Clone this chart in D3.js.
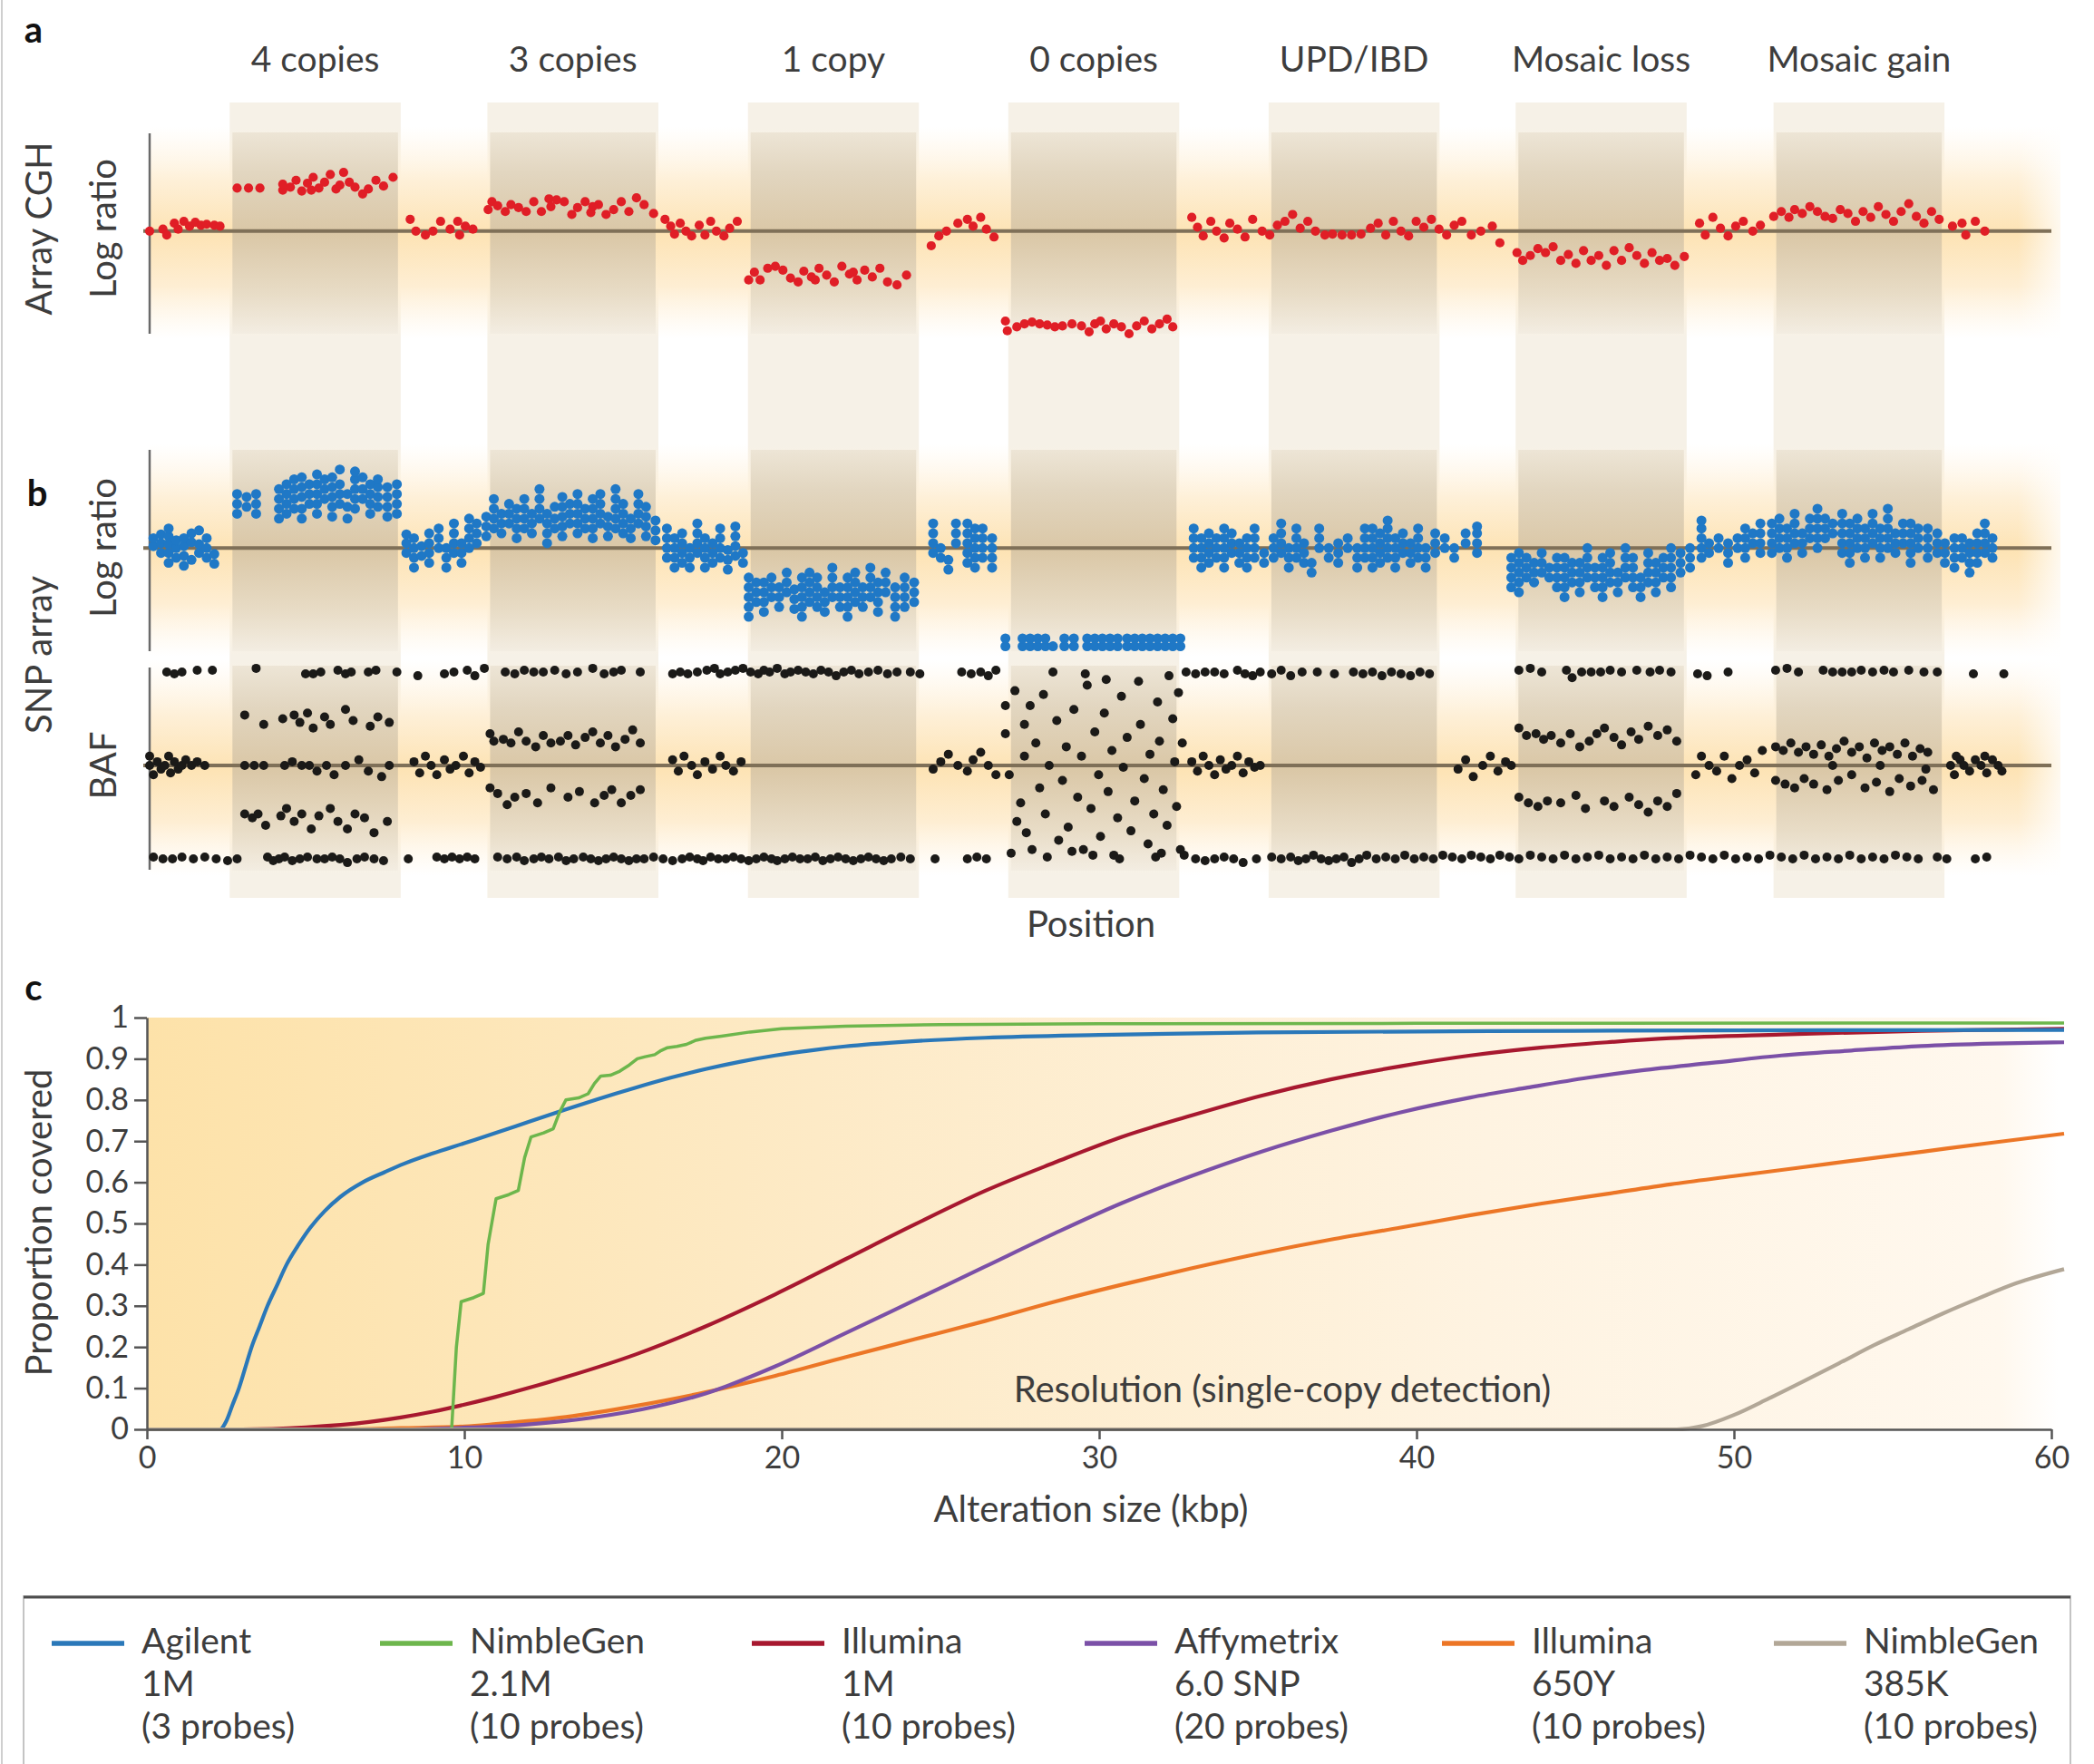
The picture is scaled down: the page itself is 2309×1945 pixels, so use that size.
<!DOCTYPE html>
<html><head><meta charset="utf-8">
<script src="https://cdn.jsdelivr.net/npm/d3@7"></script>
<style>
body{margin:0;background:#fff}
text{font-family:Lato,'Open Sans',sans-serif;fill:#3d3d3d}
</style></head>
<body><svg id="fig" width="2309" height="1945"></svg>
<script>
// ---------------- DATA ----------------
const columnLabels = ["4 copies","3 copies","1 copy","0 copies","UPD/IBD","Mosaic loss","Mosaic gain"];
const columnStarts = [4.21,17.76,31.46,45.15,58.84,71.83,85.39];   // position units
const columnWidth = 8.99;

// panel a: array CGH log ratio (position, log ratio) pairs
const redDots = [
0.0,0.0, 0.7,0.02, 0.9,-0.04, 1.3,0.08, 1.5,0.02, 1.8,0.1, 2.1,0.05, 2.4,0.09, 2.7,0.06, 3.0,0.07, 3.4,0.06, 3.7,0.05,
4.6,0.44, 5.2,0.44, 5.8,0.44, 7.0,0.42, 7.0,0.48, 7.4,0.45, 7.7,0.52, 8.0,0.41, 8.3,0.49, 8.6,0.55, 8.9,0.44, 9.2,0.5, 9.5,0.58, 9.8,0.43, 10.2,0.6, 10.5,0.5, 10.8,0.45, 11.2,0.38, 11.5,0.43, 11.9,0.52, 12.3,0.46, 12.8,0.55, 8.5,0.42, 10.0,0.47,
13.7,0.12, 14.0,0.0, 14.5,-0.04, 14.9,0.0, 15.3,0.1, 15.8,0.02, 16.2,0.1, 16.3,-0.04, 16.6,0.05, 17.0,0.02,
17.8,0.22, 18.0,0.3, 18.3,0.26, 18.7,0.2, 19.0,0.27, 19.4,0.24, 19.8,0.2, 20.2,0.3, 20.6,0.2, 21.0,0.33, 21.4,0.32, 21.8,0.3, 22.2,0.17, 22.5,0.24, 22.9,0.3, 23.2,0.19, 23.6,0.27, 24.0,0.17, 24.4,0.22, 24.8,0.3, 25.2,0.2, 25.6,0.34, 26.0,0.27, 26.5,0.18, 21.1,0.25, 23.3,0.25,
27.1,0.12, 27.4,0.05, 27.6,-0.03, 27.9,0.08, 28.2,0.0, 28.5,-0.05, 28.9,0.06, 29.2,-0.04, 29.5,0.1, 29.8,0.0, 30.2,-0.05, 30.5,0.03, 30.9,0.1,
31.5,-0.5, 31.8,-0.42, 32.1,-0.5, 32.5,-0.38, 32.9,-0.36, 33.3,-0.4, 33.7,-0.48, 34.1,-0.52, 34.4,-0.41, 34.8,-0.47, 35.2,-0.38, 35.6,-0.45, 36.0,-0.52, 36.4,-0.36, 36.8,-0.44, 37.2,-0.5, 37.6,-0.4, 38.0,-0.47, 38.4,-0.38, 38.8,-0.52, 39.3,-0.55, 39.8,-0.45, 35.0,-0.5, 37.0,-0.42,
41.1,-0.15, 41.5,-0.05, 41.9,0.0, 42.5,0.08, 43.0,0.12, 43.3,0.05, 43.7,0.14, 44.0,0.02, 44.4,-0.06,
45.0,-0.92, 45.1,-1.02, 45.6,-0.98, 46.0,-0.95, 46.4,-0.93, 46.8,-0.95, 47.2,-0.96, 47.6,-0.98, 48.0,-0.97, 48.5,-0.95, 49.0,-0.97, 49.4,-1.03, 49.7,-0.95, 50.0,-0.92, 50.3,-1.0, 50.7,-0.95, 51.1,-0.98, 51.5,-1.05, 51.9,-0.97, 52.3,-0.92, 52.7,-1.0, 53.1,-0.95, 53.5,-0.9, 53.8,-0.98,
54.8,0.14, 55.1,0.04, 55.4,-0.05, 55.8,0.1, 56.1,0.0, 56.5,-0.07, 56.8,0.08, 57.2,0.02, 57.6,-0.06, 58.0,0.12, 58.5,0.0, 58.9,-0.04, 59.3,0.06, 59.7,0.1, 60.1,0.17, 60.5,0.03, 60.9,0.1, 61.3,0.0, 61.8,-0.04, 62.2,-0.03, 62.7,-0.04, 63.2,-0.04, 63.7,-0.03, 64.2,0.03, 64.6,0.08, 65.0,-0.04, 65.4,0.1, 65.8,0.0, 66.2,-0.05, 66.6,0.1, 67.0,0.04, 67.4,0.12, 67.8,0.02, 68.2,-0.04, 68.6,0.06, 69.0,0.1, 69.5,-0.04, 70.0,0.0, 70.6,0.05, 71.0,-0.12,
71.9,-0.22, 72.2,-0.3, 72.6,-0.25, 73.0,-0.18, 73.4,-0.22, 73.8,-0.16, 74.2,-0.3, 74.6,-0.24, 75.0,-0.33, 75.4,-0.2, 75.8,-0.3, 76.2,-0.25, 76.6,-0.35, 77.0,-0.2, 77.4,-0.3, 77.8,-0.17, 78.2,-0.25, 78.6,-0.33, 79.0,-0.22, 79.4,-0.3, 79.8,-0.28, 80.2,-0.35, 80.7,-0.26,
81.5,0.08, 81.8,-0.04, 82.2,0.14, 82.6,0.03, 83.0,-0.05, 83.4,0.05, 83.8,0.1, 84.3,0.0, 84.7,0.06,
85.4,0.15, 85.8,0.2, 86.2,0.14, 86.5,0.22, 86.9,0.18, 87.3,0.25, 87.7,0.2, 88.1,0.15, 88.5,0.13, 88.9,0.22, 89.3,0.18, 89.7,0.1, 90.1,0.2, 90.5,0.14, 90.9,0.25, 91.3,0.17, 91.7,0.1, 92.1,0.2, 92.5,0.28, 92.9,0.15, 93.3,0.08, 93.7,0.2, 94.1,0.12,
94.8,0.05, 95.3,0.08, 95.5,-0.04, 96.0,0.1, 96.5,0.0
];

// panel b: SNP array log ratio, stacks [position, logratio...]
const blueStacks = [
[0.2,0.02,0.1],[0.6,-0.05,0.05,0.14],[1.0,-0.15,-0.05,0.04,0.12,0.2],[1.4,-0.1,0.0,0.08],[1.8,-0.18,-0.08,0.02,0.1],[2.2,-0.12,0.06,0.15],[2.6,-0.05,0.04,0.18],[3.0,-0.1,0.0,0.1],[3.4,-0.16,-0.06],
[4.6,0.35,0.45,0.55],[5.1,0.42,0.52],[5.6,0.35,0.45,0.55],[6.8,0.3,0.4,0.5,0.6],[7.2,0.35,0.45,0.55,0.65],[7.6,0.4,0.5,0.6,0.7],[8.0,0.3,0.4,0.52,0.62,0.72],[8.4,0.45,0.55,0.65],[8.8,0.35,0.45,0.55,0.65,0.75],[9.2,0.5,0.6,0.7],[9.6,0.32,0.42,0.52,0.62,0.72],[10.0,0.45,0.55,0.65,0.8],[10.4,0.3,0.42,0.55],[10.8,0.4,0.5,0.6,0.7,0.78],[11.2,0.5,0.6,0.72],[11.6,0.35,0.45,0.55,0.65],[12.0,0.42,0.52,0.62,0.7],[12.5,0.32,0.42,0.52,0.62],[13.0,0.35,0.45,0.55,0.65],
[13.5,-0.05,0.05,0.14],[13.9,-0.2,-0.1,0.0,0.1],[14.3,-0.08,0.02],[14.7,-0.15,-0.05,0.05,0.15],[15.2,0.0,0.1,0.2],[15.6,-0.2,-0.1,0.0],[16.0,-0.05,0.05,0.15,0.25],[16.4,-0.15,-0.05,0.05],[16.8,0.0,0.1,0.2,0.3],[17.2,0.05,0.15,0.25],
[17.7,0.12,0.22,0.32],[18.1,0.2,0.3,0.4,0.5],[18.5,0.15,0.25,0.35],[18.9,0.25,0.35,0.45],[19.3,0.1,0.2,0.3,0.4],[19.7,0.2,0.3,0.4,0.5],[20.1,0.15,0.25,0.35],[20.5,0.3,0.4,0.5,0.6],[20.9,0.05,0.15,0.25,0.35],[21.3,0.2,0.3,0.42],[21.7,0.12,0.22,0.32,0.42,0.52],[22.1,0.25,0.35,0.45],[22.5,0.15,0.25,0.35,0.45,0.55],[22.9,0.2,0.3,0.4],[23.3,0.1,0.2,0.3,0.4,0.5],[23.7,0.25,0.35,0.45,0.55],[24.1,0.12,0.22,0.32],[24.5,0.2,0.3,0.4,0.5,0.6],[24.9,0.15,0.25,0.35,0.45],[25.3,0.1,0.2,0.3],[25.7,0.25,0.35,0.45,0.55],[26.1,0.12,0.22,0.32,0.42],[26.6,0.08,0.18,0.28],
[27.2,-0.1,0.0,0.1,0.2],[27.6,-0.2,-0.1,0.0,0.1],[28.0,-0.15,-0.05,0.05,0.15],[28.4,-0.2,-0.1,0.0],[28.8,-0.05,0.05,0.15,0.25],[29.2,-0.2,-0.1,0.0,0.1],[29.6,-0.15,-0.05,0.05],[30.0,-0.1,0.0,0.1,0.2],[30.4,-0.22,-0.12,-0.02],[30.8,-0.08,0.02,0.12,0.22],[31.2,-0.15,-0.05],
[31.5,-0.7,-0.6,-0.5,-0.4,-0.3],[31.9,-0.55,-0.45,-0.35],[32.3,-0.65,-0.55,-0.45,-0.35],[32.7,-0.5,-0.4,-0.3],[33.1,-0.6,-0.5,-0.4],[33.5,-0.45,-0.35,-0.25],[33.9,-0.62,-0.52,-0.42],[34.3,-0.7,-0.6,-0.5,-0.4,-0.3],[34.7,-0.55,-0.45,-0.35,-0.25],[35.1,-0.6,-0.5,-0.4,-0.3],[35.5,-0.65,-0.55,-0.45],[35.9,-0.5,-0.4,-0.3,-0.2],[36.3,-0.6,-0.5,-0.4],[36.7,-0.7,-0.6,-0.5,-0.4,-0.3],[37.1,-0.55,-0.45,-0.35,-0.25],[37.5,-0.6,-0.5,-0.4],[37.9,-0.5,-0.4,-0.3,-0.2],[38.3,-0.65,-0.55,-0.45,-0.35],[38.7,-0.45,-0.35,-0.25],[39.2,-0.7,-0.6,-0.5,-0.4],[39.7,-0.6,-0.5,-0.4,-0.3],[40.2,-0.55,-0.45,-0.35],
[41.2,-0.05,0.05,0.15,0.25],[41.6,-0.1,0.0],[42.0,-0.22,-0.12],[42.4,0.05,0.15,0.25],[43.0,-0.15,-0.05,0.05,0.15,0.25],[43.4,-0.2,-0.1,0.0,0.1,0.2],[43.8,-0.1,0.0,0.1,0.2],[44.3,-0.2,-0.1,0.0,0.1],
[45.0,-1.0,-0.92],[45.9,-1.0,-0.92],[46.3,-1.0,-0.92],[46.7,-1.0,-0.92],[47.1,-1.0,-0.92],[47.5,-1.0],[48.1,-1.0,-0.92],[48.6,-1.0,-0.92],[49.3,-1.0,-0.92],[49.7,-1.0,-0.92],[50.1,-1.0,-0.92],[50.5,-1.0,-0.92],[50.9,-1.0,-0.92],[51.4,-1.0,-0.92],[51.8,-1.0,-0.92],[52.2,-1.0,-0.92],[52.6,-1.0,-0.92],[53.0,-1.0,-0.92],[53.4,-1.0,-0.92],[53.8,-1.0,-0.92],[54.2,-1.0,-0.92],
[54.9,-0.1,0.0,0.1,0.2],[55.3,-0.2,-0.1,0.0,0.1],[55.7,-0.15,-0.05,0.05,0.15],[56.1,-0.1,0.0,0.1],[56.5,-0.2,-0.1,0.0,0.1,0.2],[56.9,-0.05,0.05,0.15],[57.3,-0.15,-0.05,0.05],[57.7,-0.2,-0.1,0.0,0.1],[58.1,-0.1,0.0,0.1,0.2],[58.6,-0.15,-0.05],[59.1,-0.1,0.0,0.1],[59.5,-0.05,0.05,0.15,0.25],[59.9,-0.2,-0.1,0.0],[60.3,-0.1,0.0,0.1,0.2],[60.7,-0.15,-0.05,0.05],[61.1,-0.25,-0.15],[61.5,0.0,0.1,0.2],[62.0,-0.1,0.0],[62.5,-0.15,-0.05,0.05],[63.0,0.0,0.1],[63.5,-0.2,-0.1,0.0],[63.9,-0.1,0.0,0.1,0.2],[64.3,-0.2,-0.1,0.0,0.1,0.2],[64.7,-0.15,-0.05,0.05,0.15],[65.1,-0.1,0.0,0.1,0.2,0.28],[65.5,-0.2,-0.1,0.0,0.1],[65.9,-0.05,0.05,0.15],[66.3,-0.15,-0.05,0.05],[66.7,-0.1,0.0,0.1,0.2],[67.1,-0.2,-0.1,0.0],[67.6,-0.05,0.05,0.15],[68.1,0.0,0.1],[68.6,-0.1,0.0],[69.2,0.05,0.15],[69.8,-0.05,0.05,0.15,0.22],
[71.6,-0.4,-0.3,-0.2,-0.1],[72.0,-0.45,-0.35,-0.25,-0.15,-0.05],[72.4,-0.3,-0.2,-0.1],[72.8,-0.35,-0.25,-0.15],[73.2,-0.25,-0.15,-0.05],[73.6,-0.3,-0.2],[74.0,-0.4,-0.3,-0.2,-0.1],[74.4,-0.5,-0.4,-0.3,-0.2,-0.1],[74.8,-0.35,-0.25,-0.15],[75.2,-0.45,-0.35,-0.25,-0.15],[75.6,-0.3,-0.2,-0.1,0.0],[76.0,-0.4,-0.3,-0.2],[76.4,-0.5,-0.4,-0.3,-0.2,-0.1],[76.8,-0.35,-0.25,-0.15,-0.05],[77.2,-0.45,-0.35,-0.25],[77.6,-0.3,-0.2,-0.1,0.0],[78.0,-0.4,-0.3,-0.2,-0.1],[78.4,-0.5,-0.4,-0.3],[78.8,-0.35,-0.25,-0.15,-0.05],[79.2,-0.45,-0.35,-0.25,-0.15],[79.6,-0.3,-0.2,-0.1],[80.0,-0.4,-0.3,-0.2,-0.1,0.0],[80.5,-0.25,-0.15,-0.05],[81.0,-0.2,-0.1,0.0],
[81.6,-0.1,0.0,0.1,0.2,0.28],[82.0,-0.05,0.05],[82.5,0.0,0.1],[83.0,-0.15,-0.05,0.05],[83.5,0.0,0.1],[83.9,-0.1,0.0,0.1,0.2],[84.3,0.05,0.15],[84.7,-0.05,0.05,0.15,0.25],
[85.3,-0.05,0.05,0.15,0.25],[85.7,0.0,0.1,0.2,0.3],[86.1,-0.1,0.0,0.1,0.2],[86.5,0.05,0.15,0.25,0.35],[86.9,-0.05,0.05,0.15],[87.3,0.1,0.2,0.3],[87.7,0.0,0.1,0.2,0.3,0.4],[88.1,0.1,0.2,0.3],[88.5,0.15,0.25],[89.0,-0.05,0.05,0.15,0.25,0.35],[89.4,-0.15,-0.05,0.05,0.15,0.25],[89.8,0.0,0.1,0.2,0.3],[90.2,-0.1,0.0,0.1,0.2],[90.6,0.05,0.15,0.25,0.35],[91.0,-0.1,0.0,0.1,0.2],[91.4,0.0,0.1,0.2,0.3,0.4],[91.8,-0.05,0.05,0.15],[92.2,0.05,0.15,0.25],[92.6,-0.15,-0.05,0.05,0.15,0.25],[93.0,0.0,0.1,0.2],[93.5,-0.1,0.0,0.1,0.2],[94.0,-0.05,0.05,0.15],[94.4,-0.15,-0.05,0.05],
[94.9,-0.2,-0.1,0.0,0.1],[95.3,-0.1,0.0,0.1],[95.7,-0.25,-0.15,-0.05,0.05],[96.1,-0.15,-0.05,0.05,0.15],[96.5,-0.05,0.05,0.15,0.25],[96.9,-0.1,0.0,0.1]
];

// panel b: B-allele frequency (position, BAF) pairs
const bafTop = [
0.9,1.0, 1.3,0.99, 1.7,1.0, 2.5,1.01, 3.3,1.01,
5.6,1.02, 8.2,0.99, 8.6,0.99, 9.0,1.0, 9.9,1.01, 10.3,0.99, 10.6,1.0, 11.5,1.0, 11.9,1.01, 13.0,1.0, 14.1,0.98,
15.5,0.99, 16.0,1.0, 16.7,1.01, 17.1,0.98, 17.6,1.02, 18.7,1.0, 19.2,0.99, 19.7,1.01, 20.2,1.0, 20.7,1.0, 21.3,1.01, 21.9,0.99, 22.5,1.0, 23.3,1.02, 23.9,0.99, 24.4,1.0, 24.8,1.01, 25.8,1.0,
27.5,0.99, 27.9,1.0, 28.3,0.99, 28.8,1.0, 29.3,1.01, 29.7,1.02, 30.0,0.99, 30.4,1.0, 30.8,1.01, 31.2,1.02, 31.6,1.0, 32.0,0.99, 32.3,1.01, 32.6,1.0, 33.0,1.02, 33.4,0.99, 33.7,1.0, 34.1,1.01, 34.5,1.0, 34.9,0.99, 35.3,1.01, 35.7,1.0, 36.1,0.98, 36.5,1.0, 36.9,1.01, 37.3,0.99, 37.8,1.0, 38.3,1.01, 38.8,0.99, 39.3,1.0, 40.0,1.0, 40.5,0.99,
42.7,1.0, 43.2,0.99, 43.7,1.0, 44.1,0.98, 44.5,1.01, 47.5,1.0, 49.2,0.99,
54.5,1.0, 55.0,0.99, 55.5,1.0, 56.0,1.0, 56.5,0.99, 57.2,1.01, 57.6,0.99, 58.0,0.98, 58.4,1.0, 59.0,0.99, 59.5,1.01, 60.0,0.98, 60.6,1.0, 61.4,1.0, 62.3,0.99, 63.3,1.0, 63.8,0.99, 64.3,1.0, 64.8,0.98, 65.3,1.0, 65.8,0.99, 66.3,0.98, 66.8,1.0, 67.3,0.99,
72.0,1.01, 72.6,1.02, 73.2,1.0, 74.5,1.01, 74.8,0.97, 75.3,1.0, 75.8,1.0, 76.3,1.0, 76.8,1.01, 77.4,1.0, 78.2,1.01, 78.9,1.0, 79.4,1.01, 80.0,1.0,
81.4,0.99, 81.9,0.98, 83.0,1.0,
85.5,1.01, 86.1,1.02, 86.7,1.0, 88.0,1.01, 88.5,1.0, 89.0,1.0, 89.5,1.0, 90.0,1.01, 90.6,1.0, 91.2,1.01, 91.7,1.0, 92.5,1.01, 93.3,1.0, 94.0,1.0,
95.9,0.99, 97.5,0.99
];
const bafBottom = [
0.2,0.01, 0.7,0.0, 1.2,0.0, 1.7,0.01, 2.3,0.0, 2.9,0.01, 3.5,0.0, 4.1,-0.01, 4.6,0.0, 6.2,0.01, 6.5,-0.01, 6.8,0.0, 7.1,0.01, 7.5,-0.01, 7.9,0.0, 8.3,0.01, 8.8,0.0, 9.2,0.0, 9.6,0.01, 10.0,0.0, 10.4,-0.02, 10.9,0.0, 11.3,0.01, 11.8,0.0, 12.3,-0.01, 13.6,0.0,
15.1,0.01, 15.5,0.0, 15.9,0.01, 16.3,0.0, 16.7,0.01, 17.1,0.0, 18.3,0.01, 18.8,0.0, 19.3,0.01, 19.7,-0.01, 20.2,0.0, 20.6,0.01, 21.0,0.0, 21.5,0.01, 21.9,-0.01, 22.3,0.0, 22.8,0.01, 23.2,0.0, 23.6,-0.01, 24.0,0.0, 24.4,0.01, 24.8,0.0, 25.2,-0.01, 25.6,0.0, 26.0,0.0, 26.5,0.01, 27.0,0.0, 27.5,-0.01, 28.0,0.0, 28.4,0.01, 28.8,0.0, 29.1,-0.01, 29.5,0.01, 29.9,0.0, 30.3,0.0, 30.7,0.01, 31.1,0.0, 31.5,-0.01, 31.9,0.0, 32.3,0.01, 32.7,0.0, 33.0,-0.01, 33.4,0.0, 33.8,0.01, 34.2,0.0, 34.6,0.0, 35.0,0.01, 35.4,-0.01, 35.8,0.0, 36.2,0.01, 36.6,0.0, 37.0,-0.01, 37.4,0.0, 37.8,0.01, 38.2,0.0, 38.6,-0.01, 39.0,0.0, 39.5,0.01, 40.0,0.0, 41.3,0.0,
43.0,0.0, 43.5,0.01, 44.0,0.0,
54.4,0.02, 55.0,0.0, 55.5,-0.01, 56.0,0.0, 56.5,0.01, 57.0,0.0, 57.5,-0.02, 58.2,0.0, 59.0,0.01, 59.5,0.0, 60.0,0.01, 60.4,-0.01, 60.8,0.0, 61.2,0.02, 61.6,0.0, 62.0,-0.01, 62.4,0.0, 62.8,0.01, 63.2,-0.02, 63.6,0.0, 64.0,0.02, 64.5,0.0, 65.0,0.01, 65.5,0.0, 66.0,0.02, 66.5,0.0, 67.0,0.01, 67.5,0.0, 68.0,0.02, 68.5,0.01, 69.0,0.0, 69.5,0.02, 70.0,0.01, 70.5,0.0, 71.0,0.02, 71.5,0.01, 72.0,0.0, 72.6,0.02, 73.2,0.01, 73.8,0.0, 74.4,0.02, 75.0,0.0, 75.6,0.01, 76.2,0.02, 76.8,0.0, 77.4,0.01, 78.0,0.0, 78.6,0.02, 79.2,0.0, 79.8,0.01, 80.4,0.0, 81.0,0.02, 81.6,0.01, 82.2,0.0, 82.8,0.02, 83.4,0.0, 84.0,0.01, 84.6,0.0, 85.2,0.02, 85.8,0.01, 86.4,0.0, 87.0,0.02, 87.6,0.0, 88.2,0.01, 88.8,0.0, 89.4,0.02, 90.0,0.0, 90.6,0.01, 91.2,0.0, 91.8,0.02, 92.4,0.01, 93.0,0.0, 94.0,0.01, 94.5,0.0, 96.0,0.0, 96.6,0.01
];
const bafMiddle = [
0.0,0.55, 0.0,0.5, 0.2,0.45, 0.4,0.52, 0.6,0.48, 0.8,0.5, 1.0,0.55, 1.1,0.46, 1.3,0.52, 1.5,0.48, 1.7,0.5, 1.9,0.53, 2.2,0.5, 2.5,0.52, 2.9,0.5,
5.0,0.77, 6.0,0.72, 7.0,0.75, 7.6,0.77, 7.9,0.73, 8.3,0.78, 8.6,0.7, 9.2,0.76, 9.5,0.72, 10.3,0.8, 10.7,0.74, 11.6,0.71, 12.0,0.76, 12.6,0.73,
5.0,0.5, 5.5,0.5, 6.0,0.5, 7.1,0.5, 7.5,0.52, 8.0,0.5, 8.4,0.5, 8.8,0.47, 9.3,0.5, 9.7,0.45, 10.3,0.5, 11.0,0.53, 11.5,0.47, 12.2,0.44, 12.6,0.5,
5.0,0.24, 5.4,0.22, 5.7,0.24, 6.1,0.18, 6.9,0.23, 7.2,0.27, 7.6,0.2, 8.0,0.24, 8.5,0.16, 8.9,0.23, 9.5,0.27, 9.9,0.2, 10.4,0.16, 10.8,0.24, 11.3,0.22, 11.8,0.14, 12.5,0.2,
13.9,0.52, 14.2,0.46, 14.5,0.55, 14.8,0.5, 15.1,0.45, 15.5,0.53, 15.8,0.48, 16.1,0.5, 16.5,0.55, 16.8,0.46, 17.1,0.52, 17.4,0.49,
17.9,0.67, 18.1,0.63, 18.6,0.64, 19.0,0.62, 19.4,0.68, 19.8,0.63, 20.3,0.6, 20.7,0.66, 21.1,0.62, 21.6,0.63, 22.0,0.66, 22.4,0.61, 22.9,0.65, 23.3,0.68, 23.7,0.62, 24.1,0.66, 24.5,0.6, 25.0,0.64, 25.4,0.69, 25.8,0.62,
17.9,0.38, 18.3,0.35, 18.8,0.29, 19.2,0.33, 19.8,0.35, 20.4,0.3, 21.1,0.38, 22.0,0.33, 22.6,0.36, 23.4,0.3, 23.9,0.34, 24.3,0.37, 24.8,0.3, 25.3,0.34, 25.8,0.37,
27.5,0.53, 27.8,0.47, 28.1,0.55, 28.5,0.5, 28.8,0.45, 29.2,0.52, 29.6,0.48, 30.0,0.55, 30.3,0.5, 30.7,0.47, 31.1,0.52,
41.2,0.48, 41.6,0.52, 42.0,0.56, 42.5,0.5, 43.0,0.47, 43.3,0.53, 43.7,0.57, 44.1,0.5, 44.5,0.45,
45.0,0.82, 45.0,0.67, 45.2,0.45, 45.5,0.9, 45.6,0.2, 45.8,0.3, 46.0,0.72, 46.0,0.55, 46.1,0.14, 46.4,0.05, 46.6,0.62, 46.8,0.38, 47.0,0.88, 47.1,0.24, 47.3,0.5, 47.7,0.74, 47.8,0.1, 48.0,0.42, 48.2,0.6, 48.3,0.17, 48.6,0.8, 48.8,0.33, 49.0,0.55, 49.1,0.05, 49.3,0.93, 49.5,0.27, 49.7,0.68, 49.9,0.45, 50.0,0.12, 50.2,0.78, 50.4,0.36, 50.6,0.58, 50.7,0.02, 50.9,0.22, 51.1,0.87, 51.2,0.49, 51.4,0.65, 51.6,0.15, 51.8,0.31, 52.0,0.95, 52.1,0.72, 52.3,0.43, 52.5,0.08, 52.6,0.56, 52.8,0.24, 53.0,0.84, 53.1,0.63, 53.3,0.37, 53.5,0.18, 53.6,0.98, 53.8,0.75, 53.9,0.52, 54.0,0.28, 54.1,0.89, 54.2,0.05, 54.3,0.62, 46.3,0.82, 48.5,0.04, 49.6,0.02, 51.0,0.0, 52.9,0.01, 47.2,0.01, 50.3,0.96, 45.3,0.03, 53.2,0.03,
54.8,0.52, 55.1,0.47, 55.4,0.55, 55.7,0.5, 56.0,0.45, 56.3,0.53, 56.6,0.48, 56.9,0.5, 57.2,0.55, 57.5,0.46, 57.8,0.52, 58.1,0.49, 58.4,0.5,
68.8,0.48, 69.2,0.53, 69.6,0.44, 70.1,0.5, 70.5,0.55, 70.9,0.47, 71.3,0.52, 71.6,0.5,
72.0,0.7, 72.4,0.66, 72.9,0.67, 73.3,0.64, 73.7,0.66, 74.2,0.62, 74.7,0.67, 75.2,0.6, 75.7,0.63, 76.1,0.67, 76.5,0.7, 77.0,0.65, 77.4,0.61, 77.9,0.68, 78.3,0.64, 78.8,0.71, 79.3,0.66, 79.8,0.69, 80.3,0.63,
72.0,0.33, 72.5,0.3, 73.0,0.28, 73.5,0.31, 74.2,0.3, 75.0,0.34, 75.5,0.27, 76.5,0.31, 77.0,0.28, 77.8,0.33, 78.3,0.29, 78.8,0.25, 79.3,0.31, 79.8,0.28, 80.3,0.35,
81.3,0.45, 81.6,0.55, 82.0,0.5, 82.4,0.47, 82.8,0.55, 83.2,0.43, 83.6,0.5, 84.0,0.53, 84.4,0.46, 84.8,0.58,
85.5,0.6, 85.9,0.58, 86.3,0.62, 86.7,0.57, 87.1,0.6, 87.5,0.56, 87.9,0.61, 88.3,0.55, 88.7,0.59, 89.1,0.63, 89.5,0.57, 89.9,0.6, 90.3,0.54, 90.7,0.62, 91.1,0.58, 91.5,0.6, 91.9,0.56, 92.3,0.62, 92.7,0.55, 93.1,0.59, 93.5,0.57,
85.5,0.42, 86.0,0.4, 86.5,0.38, 87.0,0.43, 87.5,0.4, 88.2,0.37, 88.8,0.42, 89.5,0.45, 90.2,0.38, 90.8,0.41, 91.5,0.36, 92.0,0.43, 92.6,0.39, 93.2,0.42, 93.8,0.37, 88.5,0.5, 91.0,0.5, 93.4,0.48,
94.7,0.5, 94.9,0.45, 95.2,0.53, 95.4,0.5, 95.7,0.47, 96.0,0.53, 96.3,0.5, 96.6,0.46, 96.9,0.53, 97.2,0.5, 97.4,0.47, 95.0,0.55, 96.5,0.55
];

// panel c: proportion covered vs alteration size (kbp)
const agilent1M = [[0,0],[2.3,0],[2.5,0.02],[2.7,0.06],[2.9,0.1],[3.1,0.15],[3.3,0.2],[3.55,0.25],[3.8,0.3],[4.1,0.35],[4.4,0.4],[4.75,0.445],[5.15,0.49],[5.6,0.53],[6.1,0.565],[6.8,0.6],[7.5,0.625],[8.1,0.645],[9,0.67],[10,0.695],[11,0.72],[12,0.746],[13.2,0.777],[14.2,0.802],[15.4,0.83],[16.5,0.854],[17.6,0.875],[18.7,0.893],[19.8,0.908],[21,0.921],[22,0.93],[24,0.942],[26.4,0.951],[30,0.958],[35,0.964],[45,0.968],[60.4,0.97]];
const nimblegen21M = [[0,0],[9.6,0],[9.75,0.2],[9.9,0.31],[10.3,0.32],[10.6,0.33],[10.75,0.45],[11.0,0.56],[11.4,0.57],[11.7,0.58],[11.9,0.66],[12.1,0.71],[12.5,0.72],[12.8,0.73],[13.0,0.77],[13.2,0.8],[13.6,0.805],[13.9,0.815],[14.1,0.84],[14.3,0.858],[14.6,0.86],[14.9,0.87],[15.2,0.885],[15.45,0.9],[15.7,0.905],[16.0,0.91],[16.2,0.92],[16.4,0.927],[16.7,0.93],[17.0,0.935],[17.3,0.945],[17.6,0.95],[18.1,0.955],[19,0.965],[20,0.973],[22,0.979],[25,0.983],[30,0.985],[40,0.986],[60.4,0.987]];
const illumina1M = [[0,0],[3,0],[5,0.005],[7,0.018],[8,0.029],[9,0.043],[10,0.06],[11,0.079],[12,0.1],[13.2,0.127],[15.4,0.182],[17.6,0.25],[19.8,0.328],[22,0.413],[24.2,0.498],[26.4,0.579],[28.6,0.648],[30.7,0.71],[32.9,0.762],[35.1,0.81],[37.3,0.85],[39.5,0.882],[41.7,0.908],[43.9,0.927],[46,0.94],[48,0.95],[51.5,0.959],[55.9,0.968],[60.4,0.973]];
const affy6 = [[0,0],[8,0],[10,0.004],[12,0.012],[14,0.028],[16,0.055],[17.6,0.087],[19.8,0.153],[22,0.233],[24.2,0.314],[26.4,0.395],[28.6,0.476],[30.7,0.549],[32.9,0.615],[35.1,0.674],[37.3,0.725],[39.5,0.77],[41.7,0.806],[43.5,0.83],[45.4,0.854],[47.1,0.872],[49.3,0.89],[51.5,0.908],[53.7,0.92],[55.9,0.931],[58.2,0.937],[60.4,0.94]];
const illumina650Y = [[0,0],[6,0],[8,0.003],[10,0.007],[11,0.013],[13.2,0.03],[15.4,0.057],[17.6,0.09],[19.8,0.13],[22,0.175],[24.2,0.219],[26.4,0.263],[28.6,0.31],[30.7,0.351],[32.9,0.391],[35.1,0.428],[37.3,0.461],[39.5,0.49],[41.7,0.52],[43.9,0.548],[46,0.572],[48,0.595],[50,0.615],[52,0.635],[54,0.655],[56,0.675],[58,0.695],[60.4,0.718]];
const nimblegen385K = [[0,0],[48.2,0],[49,0.008],[50,0.035],[51.1,0.075],[52.2,0.117],[53.3,0.16],[54.4,0.204],[55.5,0.243],[56.6,0.282],[57.7,0.318],[58.9,0.355],[60.4,0.389]];

const xTicks = [0,10,20,30,40,50,60];
const yTicks = [0,0.1,0.2,0.3,0.4,0.5,0.6,0.7,0.8,0.9,1];
const legendLines = [["Agilent","1M","(3 probes)"],["NimbleGen","2.1M","(10 probes)"],["Illumina","1M","(10 probes)"],["Affymetrix","6.0 SNP","(20 probes)"],["Illumina","650Y","(10 probes)"],["NimbleGen","385K","(10 probes)"]];
const seriesColors = ["#2a78b9","#6db64c","#a7182f","#7b50a7","#ec7626","#b2a797"];
const seriesData = [agilent1M,nimblegen21M,illumina1M,affy6,illumina650Y,nimblegen385K];

// ---------------- DRAW ----------------
const svg = d3.select("#fig");
const defs = svg.append("defs");
function grad(id, stops, horiz){
  const g = defs.append("linearGradient").attr("id",id).attr("x1",0).attr("y1",0).attr("x2",horiz?1:0).attr("y2",horiz?0:1);
  stops.forEach(s=>g.append("stop").attr("offset",s[0]).attr("stop-color",s[1]).attr("stop-opacity",s[2]===undefined?1:s[2]));
}
grad("band",[[0,"#fff4e2",0],[0.25,"#fef0d8",1],[0.5,"#fde3b4",1],[0.75,"#feeed3",1],[1,"#fff4e2",0]]);
grad("colband",[[0,"#ede5d6"],[0.2,"#e2d6c0"],[0.5,"#dac7a6"],[0.8,"#e8dcc6"],[1,"#f3ede2"]]);
grad("fadeR",[[0,"#fff",0],[1,"#fff",1]],true);
grad("plotbg",[[0,"#fde2a9"],[0.35,"#fdeac6"],[0.7,"#fef3e1"],[0.97,"#fff8ee"],[1,"#ffffff"]],true);

// frame line
svg.append("line").attr("x1",2).attr("x2",2).attr("y1",0).attr("y2",1945).attr("stroke","#cfcfcf").attr("stroke-width",2);

const posX = d3.scaleLinear().domain([0,100]).range([165,2262]);
const yA = d3.scaleLinear().domain([-1.05,1]).range([368,147]);
const yB = d3.scaleLinear().domain([-1.05,1]).range([718,496]);
const yF = d3.scaleLinear().domain([0,1]).range([947,741]);

const cols = columnStarts.map((s,i)=>({s, label:columnLabels[i], x0:posX(s), x1:posX(s+columnWidth)}));
const rows = [[140,374],[490,724],[728,966]];

svg.append("g").selectAll("rect").data(cols).join("rect")
  .attr("x",d=>d.x0).attr("width",d=>d.x1-d.x0).attr("y",113).attr("height",877).attr("fill","#f6f1e7");
const bandG = svg.append("g");
rows.forEach(r=>{
  bandG.append("rect").attr("x",165).attr("width",2262-165+10).attr("y",r[0]).attr("height",r[1]-r[0]).attr("fill","url(#band)");
  bandG.selectAll(null).data(cols).join("rect")
    .attr("x",d=>d.x0+3).attr("width",d=>d.x1-d.x0-6).attr("y",r[0]+6).attr("height",r[1]-r[0]-12).attr("fill","url(#colband)");
});
bandG.append("rect").attr("x",2225).attr("width",60).attr("y",130).attr("height",850).attr("fill","url(#fadeR)");

svg.append("g").selectAll("text").data(cols).join("text")
  .attr("x",d=>(d.x0+d.x1)/2).attr("y",69).attr("text-anchor","middle").attr("dominant-baseline","middle")
  .attr("font-size",39).text(d=>d.label);

[[yA,0],[yB,0],[yF,0.5]].forEach(([sc,v])=>{
  svg.append("line").attr("x1",158).attr("x2",2262).attr("y1",sc(v)).attr("y2",sc(v)).attr("stroke","#7f7058").attr("stroke-width",4);
});
[[147,368],[496,718],[736,959]].forEach(([a,b])=>{
  svg.append("line").attr("x1",165).attr("x2",165).attr("y1",a).attr("y2",b).attr("stroke","#6a6a6a").attr("stroke-width",2.5);
});

const pairs = arr => d3.range(0,arr.length,2).map(i=>[arr[i],arr[i+1]]);
svg.append("g").selectAll("circle").data(pairs(redDots)).join("circle")
  .attr("cx",d=>posX(d[0])).attr("cy",d=>yA(d[1])).attr("r",5.1).attr("fill","#e01e26");
const bluePts = blueStacks.flatMap(s=>s.slice(1).map(v=>[s[0],v]));
svg.append("g").selectAll("circle").data(bluePts).join("circle")
  .attr("cx",d=>posX(d[0])).attr("cy",d=>yB(d[1])).attr("r",5.5).attr("fill","#1f78c6");
const bafPts = pairs(bafTop).concat(pairs(bafBottom), pairs(bafMiddle));
svg.append("g").selectAll("circle").data(bafPts).join("circle")
  .attr("cx",d=>posX(d[0])).attr("cy",d=>yF(d[1])).attr("r",5.0).attr("fill","#1b1a18");

function label(x,y,txt,size,rot,weight){
  const t = svg.append("text").attr("x",x).attr("y",y).attr("font-size",size).attr("text-anchor","middle").attr("dominant-baseline","middle").text(txt);
  if(rot) t.attr("transform",`rotate(-90,${x},${y})`);
  if(weight) t.attr("font-weight",weight).style("fill","#111");
  return t;
}
label(37,37,"a",40,false,"bold");
label(41,548,"b",40,false,"bold");
label(37,1093,"c",40,false,"bold");
label(47,252,"Array CGH",40,true);
label(118,252,"Log ratio",40,true);
label(47,722,"SNP array",40,true);
label(118,604,"Log ratio",40,true);
label(118,844,"BAF",40,true);
label(1203,1023,"Position",40);

// ---------------- panel c ----------------
const xC = d3.scaleLinear().domain([0,60]).range([162,2262]);
const yC = d3.scaleLinear().domain([0,1]).range([1576,1122]);
svg.append("rect").attr("x",162).attr("y",1122).attr("width",2270-162).attr("height",1576-1122).attr("fill","url(#plotbg)");

const lineGen = d3.line().x(d=>xC(d[0])).y(d=>yC(d[1]));
[4,3,2,0,1,5].forEach(i=>{
  svg.append("path").datum(seriesData[i])
    .attr("d", lineGen.curve(i===1?d3.curveLinear:d3.curveMonotoneX))
    .attr("fill","none").attr("stroke",seriesColors[i]).attr("stroke-width",i===1?3.5:4.2)
    .attr("stroke-linejoin","round");
});

const yAxis = svg.append("g").attr("transform","translate(162,0)")
  .call(d3.axisLeft(yC).tickValues(yTicks).tickSize(14).tickSizeOuter(0).tickPadding(6)
    .tickFormat(d=>d===0?"0":d===1?"1":d3.format(".1f")(d)));
const xAxis = svg.append("g").attr("transform","translate(0,1576)")
  .call(d3.axisBottom(xC).tickValues(xTicks).tickSize(11).tickSizeOuter(0).tickPadding(8));
[yAxis,xAxis].forEach(g=>{
  g.select(".domain").attr("stroke","#555").attr("stroke-width",2.5);
  g.selectAll(".tick line").attr("stroke","#555").attr("stroke-width",2.5);
  g.selectAll(".tick text").attr("font-size",34).attr("font-family","Lato,'Open Sans',sans-serif").style("fill","#3d3d3d");
});
label(47,1348,"Proportion covered",40,true);
label(1203,1668,"Alteration size (kbp)",40);
label(1414,1536,"Resolution (single-copy detection)",40);

// ---------------- legend ----------------
svg.append("rect").attr("x",26).attr("y",1760).attr("width",2257).attr("height",220).attr("fill","#fff").attr("stroke","#c4c4c4").attr("stroke-width",2);
svg.append("line").attr("x1",26).attr("x2",2283).attr("y1",1761).attr("y2",1761).attr("stroke","#4d4d4d").attr("stroke-width",3);
const swX = [57,419,829,1196,1590,1956];
const leg = svg.append("g").selectAll("g").data(legendLines).join("g")
  .attr("transform",(d,i)=>`translate(${swX[i]},0)`);
leg.append("line").attr("x1",0).attr("x2",80).attr("y1",1812).attr("y2",1812)
  .attr("stroke",(d,i)=>seriesColors[i]).attr("stroke-width",5.5);
leg.each(function(d){
  const g = d3.select(this);
  d.forEach((t,j)=>g.append("text").attr("x",99).attr("y",1813+j*47).attr("dominant-baseline","middle").attr("font-size",39).text(t));
});
</script></body></html>
